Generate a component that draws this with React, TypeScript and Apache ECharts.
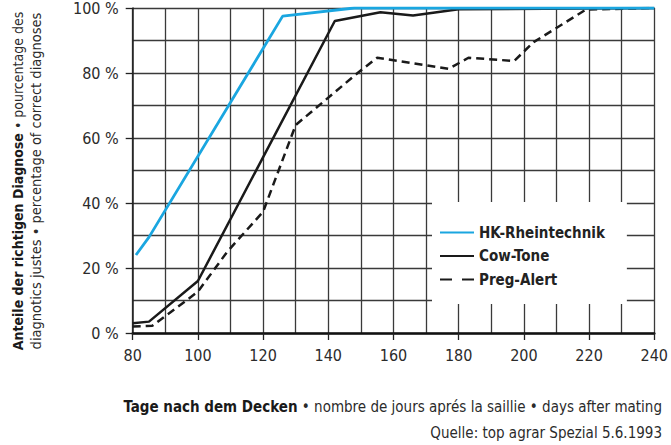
import React, { useEffect, useRef } from "react";
import * as echarts from "echarts";

const xTicks = [80, 100, 120, 140, 160, 180, 200, 220, 240];
const yTicks = [0, 20, 40, 60, 80, 100];

const hkDays = [81, 85, 126, 148, 240];
const hkValues = [24, 29.5, 97.5, 100, 100];

const cowDays = [80, 85, 100, 142, 156, 166, 180, 240];
const cowValues = [3, 3.5, 16, 96, 98.7, 97.7, 99.6, 100];

const pregDays = [80, 86, 100, 109, 120, 130, 149, 155, 177, 183, 197, 203, 219, 240];
const pregValues = [2, 2.2, 12.7, 25, 37.3, 64, 80, 84.7, 81.3, 84.7, 83.7, 89.5, 99.5, 100];

const seriesNames = ["HK-Rheintechnik", "Cow-Tone", "Preg-Alert"];

const FONT = "'Liberation Sans Narrow', 'DejaVu Sans Condensed', 'Roboto Condensed', sans-serif";
const TXT = "#2b2b2b";

const zip = (a: number[], b: number[]) => a.map((d, i) => [d, b[i]]);

export default function App() {
  const ref = useRef<HTMLDivElement>(null);
  useEffect(() => {
    if (!ref.current) return;
    const chart = echarts.init(ref.current, undefined, { renderer: "svg" });
    const gridLine = { color: "#3a3a3a", width: 1.3 };
    chart.setOption({
      animation: false,
      backgroundColor: "#ffffff",
      grid: { left: 132.7, right: 7, top: 7.5, bottom: 112 },
      xAxis: {
        type: "value",
        min: xTicks[0],
        max: xTicks[xTicks.length - 1],
        interval: 20,
        axisLine: { show: true, onZero: false, lineStyle: { color: "#111", width: 2.5 } },
        axisTick: { show: true, inside: false, length: 7, lineStyle: { color: "#222", width: 1.3 } },
        axisLabel: { margin: 14, fontSize: 16, fontFamily: FONT, color: TXT },
        splitLine: { show: true, lineStyle: gridLine },
        minorTick: { show: false, splitNumber: 2 },
        minorSplitLine: { show: true, lineStyle: gridLine },
      },
      yAxis: {
        type: "value",
        min: yTicks[0],
        max: yTicks[yTicks.length - 1],
        interval: 20,
        axisLine: { show: true, lineStyle: { color: "#222", width: 1.5 } },
        axisTick: { show: true, inside: false, length: 7, lineStyle: { color: "#222", width: 1.3 } },
        axisLabel: { margin: 14, fontSize: 16, fontFamily: FONT, color: TXT, formatter: "{value} %" },
        splitLine: { show: true, lineStyle: gridLine },
        minorTick: { show: false, splitNumber: 2 },
        minorSplitLine: { show: true, lineStyle: gridLine },
      },
      legend: {
        orient: "vertical",
        left: 432,
        top: 202,
        backgroundColor: "#ffffff",
        padding: [23, 22, 17, 7],
        itemWidth: 34,
        itemHeight: 14,
        itemGap: 8.5,
        itemTextGap: 8,
        itemStyle: { color: "transparent", borderWidth: 0, opacity: 0 },
        textStyle: { fontFamily: FONT, fontSize: 15, fontWeight: "bold", color: "#222" },
        data: [
          { name: seriesNames[0] },
          { name: seriesNames[1] },
          { name: seriesNames[2], lineStyle: { type: [12, 10] } },
        ],
      },
      series: [
        {
          name: seriesNames[2],
          type: "line",
          symbol: "none",
          z: 3,
          lineStyle: { color: "#1a1a1a", width: 2.5, type: [8, 5] },
          itemStyle: { color: "#1a1a1a" },
          data: zip(pregDays, pregValues),
        },
        {
          name: seriesNames[1],
          type: "line",
          symbol: "none",
          z: 4,
          lineStyle: { color: "#1a1a1a", width: 2.5 },
          itemStyle: { color: "#1a1a1a" },
          data: zip(cowDays, cowValues),
        },
        {
          name: seriesNames[0],
          type: "line",
          symbol: "none",
          z: 5,
          lineStyle: { color: "#1aa6e0", width: 2.8 },
          itemStyle: { color: "#1aa6e0" },
          data: zip(hkDays, hkValues),
        },
      ],
      graphic: [
        {
          type: "text",
          x: 18,
          y: 181,
          rotation: Math.PI / 2,
          style: {
            text: "{b|Anteile der richtigen Diagnose} • pourcentage des",
            align: "center",
            verticalAlign: "middle",
            fontFamily: FONT,
            fontSize: 14,
            fill: TXT,
            rich: { b: { fontFamily: FONT, fontSize: 14, fontWeight: "bold", fill: "#1a1a1a" } },
          },
        },
        {
          type: "text",
          x: 36,
          y: 181,
          rotation: Math.PI / 2,
          style: {
            text: "diagnotics justes • percentage of correct diagnoses",
            align: "center",
            verticalAlign: "middle",
            fontFamily: FONT,
            fontSize: 14.5,
            fill: TXT,
          },
        },
        {
          type: "text",
          x: 662,
          y: 407,
          style: {
            text: "{b|Tage nach dem Decken} • nombre de jours aprés la saillie • days after mating",
            align: "right",
            verticalAlign: "middle",
            fontFamily: FONT,
            fontSize: 15,
            fill: TXT,
            rich: { b: { fontFamily: FONT, fontSize: 15, fontWeight: "bold", fill: "#1a1a1a" } },
          },
        },
        {
          type: "text",
          x: 662,
          y: 433,
          style: {
            text: "Quelle: top agrar Spezial 5.6.1993",
            align: "right",
            verticalAlign: "middle",
            fontFamily: FONT,
            fontSize: 15,
            fill: TXT,
          },
        },
      ],
    });
    return () => chart.dispose();
  }, []);
  return <div ref={ref} style={{ width: 671, height: 445, position: "absolute", left: 0, top: 0 }} />;
}
